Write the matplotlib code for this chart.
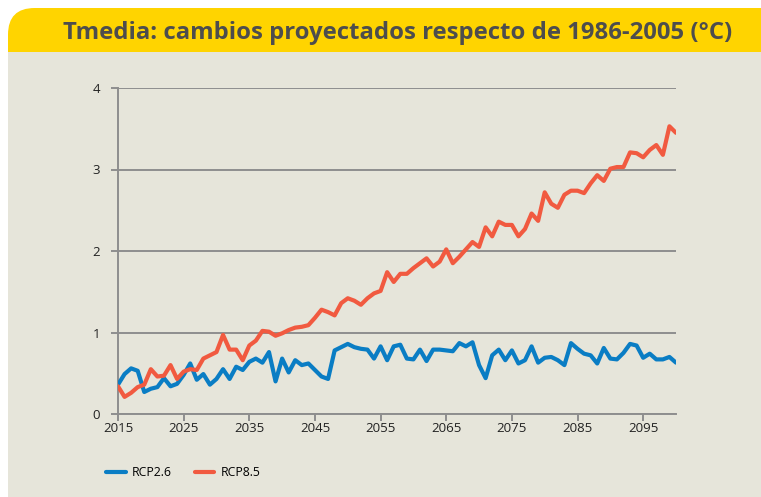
import numpy as np
import matplotlib
matplotlib.use("Agg")
from matplotlib import pyplot as plt
from matplotlib.patches import FancyBboxPatch, Rectangle

years = list(range(2015, 2101))

rcp26 = [0.36, 0.49, 0.56, 0.53, 0.27, 0.31, 0.33, 0.44, 0.34, 0.37,
         0.48, 0.62, 0.42, 0.49, 0.36, 0.43, 0.55, 0.43, 0.58, 0.54,
         0.64, 0.68, 0.63, 0.76, 0.40, 0.68, 0.51, 0.66, 0.60, 0.62,
         0.54, 0.46, 0.43, 0.78, 0.82, 0.86, 0.82, 0.80, 0.79, 0.68,
         0.83, 0.66, 0.83, 0.85, 0.68, 0.67, 0.79, 0.65, 0.79, 0.79,
         0.78, 0.77, 0.87, 0.83, 0.88, 0.60, 0.44, 0.72, 0.79, 0.66,
         0.78, 0.62, 0.66, 0.83, 0.63, 0.69, 0.70, 0.66, 0.60, 0.87,
         0.80, 0.74, 0.72, 0.62, 0.81, 0.68, 0.67, 0.75, 0.86, 0.84,
         0.69, 0.74, 0.67, 0.67, 0.70, 0.63]

rcp85 = [0.34, 0.21, 0.26, 0.33, 0.36, 0.55, 0.46, 0.47, 0.60, 0.43,
         0.52, 0.55, 0.54, 0.68, 0.72, 0.76, 0.97, 0.79, 0.79, 0.66,
         0.84, 0.90, 1.02, 1.01, 0.96, 0.99, 1.03, 1.06, 1.07, 1.09,
         1.18, 1.28, 1.25, 1.21, 1.36, 1.42, 1.39, 1.34, 1.42, 1.48,
         1.51, 1.74, 1.62, 1.72, 1.72, 1.79, 1.85, 1.91, 1.81, 1.87,
         2.02, 1.85, 1.93, 2.02, 2.11, 2.05, 2.29, 2.18, 2.36, 2.32,
         2.32, 2.18, 2.27, 2.46, 2.37, 2.72, 2.58, 2.53, 2.69, 2.74,
         2.74, 2.71, 2.83, 2.93, 2.86, 3.01, 3.03, 3.03, 3.21, 3.20,
         3.15, 3.24, 3.30, 3.18, 3.53, 3.45]

xticks = list(range(2015, 2100, 10))
yticks = [0, 1, 2, 3, 4]

title = "Tmedia: cambios proyectados respecto de 1986-2005 (°C)"

plt.rcParams['font.family'] = ['Open Sans', 'DejaVu Sans']

fig = plt.figure(figsize=(7.61, 4.97), dpi=100)
fig.patch.set_facecolor("white")

# yellow title banner (rounded top) with the beige panel below it
W, H = 761.0, 497.0
banner = FancyBboxPatch((8 / W, (497 - 100) / H), (790 - 8) / W, 92 / H,
                        boxstyle="round,pad=0,rounding_size=0.035",
                        transform=fig.transFigure, facecolor="#FFD400",
                        edgecolor="none", zorder=-3, mutation_aspect=W / H)
fig.patches.append(banner)
panel = Rectangle((8 / W, 0), (761 - 8) / W, (497 - 52) / H,
                  transform=fig.transFigure, facecolor="#E6E5DA",
                  edgecolor="none", zorder=-2)
fig.patches.append(panel)
fig.text(398 / W, 1 - 33 / H, title, ha="center", va="center",
         fontsize=17.2, fontweight="bold", color="#4D4D4D")

ax = fig.add_axes([118 / W, 1 - 414 / H, (676 - 118) / W, (414 - 88) / H])
ax.set_facecolor("none")
ax.plot(years, rcp26, color="#0A7DC4", lw=3, label="RCP2.6",
        solid_joinstyle="round", solid_capstyle="round", zorder=3)
ax.plot(years, rcp85, color="#F15A40", lw=3, label="RCP8.5",
        solid_joinstyle="round", solid_capstyle="round", zorder=3)

ax.set_xlim(2015, 2100)
ax.set_ylim(0, 4)
ax.set_xticks(xticks)
ax.set_yticks(yticks)
ax.grid(axis="y", color="#8E8E8E", lw=1.4)
ax.set_axisbelow(True)
for s in ["top", "right"]:
    ax.spines[s].set_visible(False)
for s in ["left", "bottom"]:
    ax.spines[s].set_color("#8E8E8E")
    ax.spines[s].set_linewidth(1.4)
ax.tick_params(axis="both", colors="#8E8E8E", labelcolor="#222222",
               labelsize=9.5, length=5, width=1.4)
ax.tick_params(axis="y", pad=8)
ax.tick_params(axis="x", pad=1)

ax.legend(loc="upper left", bbox_to_anchor=(95 / W, 1 - 455 / H),
          bbox_transform=fig.transFigure, ncol=2, frameon=False,
          fontsize=8.8, handlelength=1.6, columnspacing=1.9, handletextpad=0.5)

fig.savefig("out.png", dpi=100, facecolor=fig.get_facecolor())
